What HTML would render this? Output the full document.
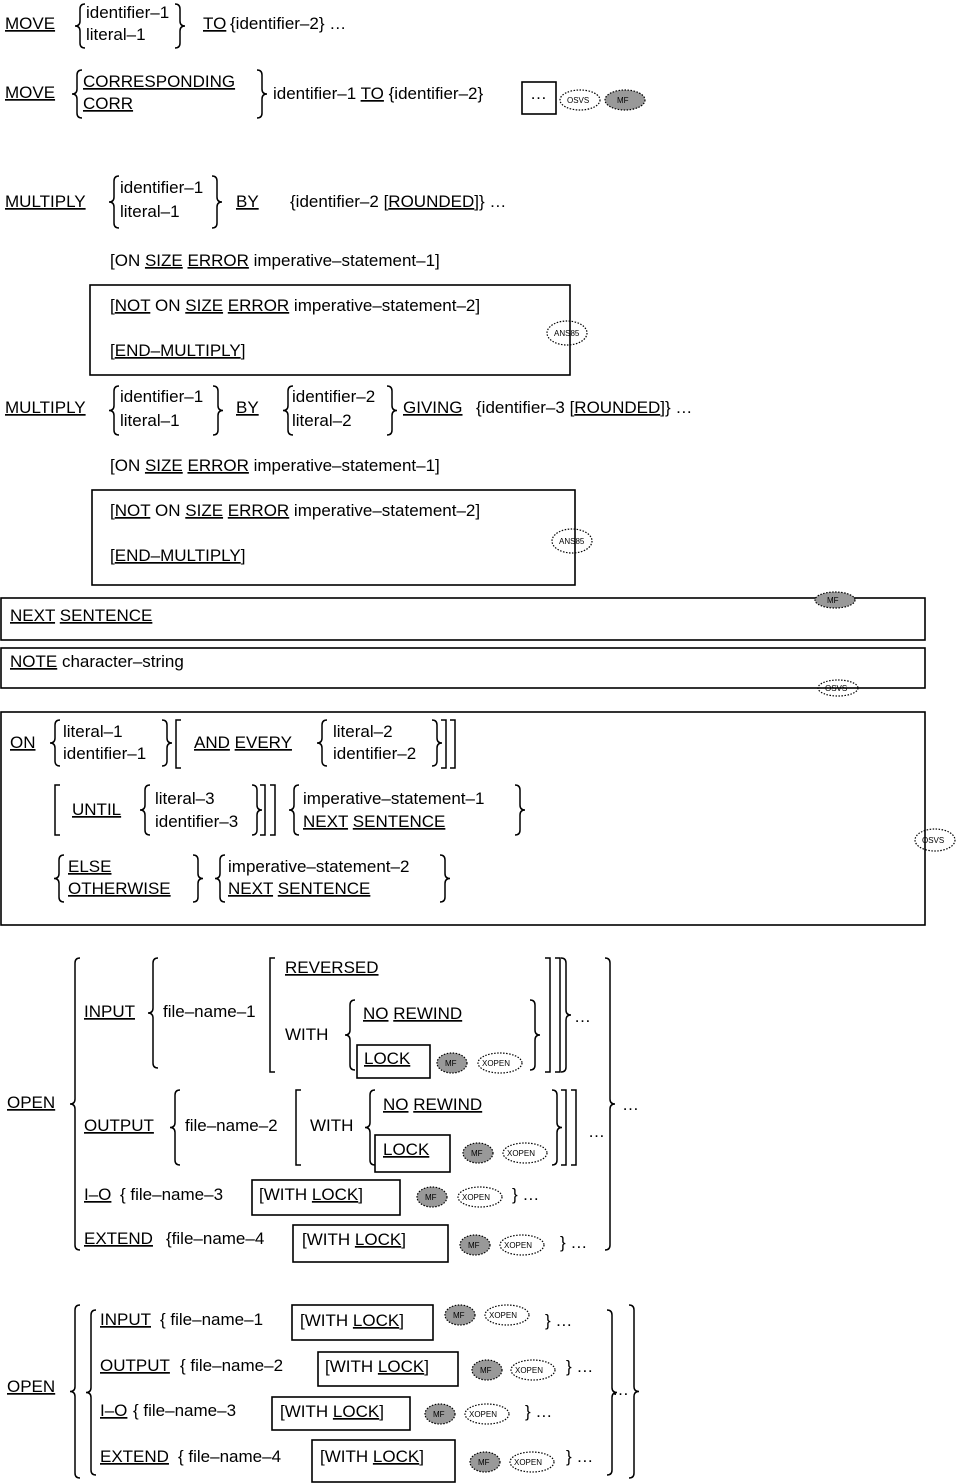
<!DOCTYPE html>
<html><head><meta charset="utf-8">
<style>
html,body{margin:0;padding:0;background:#fff;}
svg{display:block}
text{font-family:"Liberation Sans",sans-serif;font-size:17px;fill:#000}
.u{text-decoration:underline}
.b{font-size:8px}
</style></head>
<body>
<svg id="s" width="956" height="1484" viewBox="0 0 956 1484" xmlns="http://www.w3.org/2000/svg">
<g fill="none" stroke="#000" stroke-width="1.6">
<rect x="522" y="82" width="34" height="32"/>
<rect x="90" y="285" width="480" height="90"/>
<rect x="92" y="490" width="483" height="95"/>
<rect x="1" y="598" width="924" height="42"/>
<rect x="1" y="648" width="924" height="40"/>
<rect x="1" y="712" width="924" height="213"/>
<rect x="357" y="1045" width="73" height="33"/>
<rect x="375" y="1135" width="75" height="37"/>
<rect x="252" y="1180" width="148" height="35"/>
<rect x="293" y="1225" width="155" height="37"/>
<rect x="292" y="1305" width="141" height="35"/>
<rect x="318" y="1352" width="140" height="34"/>
<rect x="272" y="1397" width="138" height="33"/>
<rect x="312" y="1440" width="143" height="42"/>
</g>
<g id="br" fill="none" stroke="#000" stroke-width="1.5"></g>
<g fill="none" stroke="#000" stroke-width="1.2" stroke-dasharray="1.5,1.5">
<ellipse cx="580" cy="100" rx="20" ry="10"/>
<ellipse cx="567" cy="333" rx="20" ry="12"/>
<ellipse cx="572" cy="541" rx="20" ry="12"/>
<ellipse cx="838" cy="688" rx="20" ry="8"/>
<ellipse cx="935" cy="840" rx="20" ry="11"/>
<ellipse cx="500" cy="1063" rx="22" ry="10"/>
<ellipse cx="525" cy="1153" rx="22" ry="10"/>
<ellipse cx="480" cy="1197" rx="22" ry="10"/>
<ellipse cx="522" cy="1245" rx="22" ry="10"/>
<ellipse cx="507" cy="1315" rx="22" ry="10"/>
<ellipse cx="533" cy="1370" rx="22" ry="10"/>
<ellipse cx="487" cy="1414" rx="22" ry="10"/>
<ellipse cx="532" cy="1462" rx="22" ry="10"/>
</g>
<g fill="#999" stroke="#000" stroke-width="1.2" stroke-dasharray="1.5,1.5">
<ellipse cx="625" cy="100" rx="20" ry="10"/>
<ellipse cx="835" cy="600" rx="20" ry="8"/>
<ellipse cx="452" cy="1063" rx="15" ry="10"/>
<ellipse cx="478" cy="1153" rx="15" ry="10"/>
<ellipse cx="432" cy="1197" rx="15" ry="10"/>
<ellipse cx="475" cy="1245" rx="15" ry="10"/>
<ellipse cx="460" cy="1315" rx="15" ry="10"/>
<ellipse cx="487" cy="1370" rx="15" ry="10"/>
<ellipse cx="440" cy="1414" rx="15" ry="10"/>
<ellipse cx="485" cy="1462" rx="15" ry="10"/>
</g>
<g class="badges">
<text class="b" x="567" y="103">OSVS</text><text class="b" x="617" y="103">MF</text>
<text class="b" x="554" y="336">ANS85</text><text class="b" x="559" y="544">ANS85</text>
<text class="b" x="827" y="603">MF</text><text class="b" x="825" y="691">OSVS</text>
<text class="b" x="922" y="843">OSVS</text>
<text class="b" x="445" y="1066">MF</text><text class="b" x="482" y="1066">XOPEN</text>
<text class="b" x="471" y="1156">MF</text><text class="b" x="507" y="1156">XOPEN</text>
<text class="b" x="425" y="1200">MF</text><text class="b" x="462" y="1200">XOPEN</text>
<text class="b" x="468" y="1248">MF</text><text class="b" x="504" y="1248">XOPEN</text>
<text class="b" x="453" y="1318">MF</text><text class="b" x="489" y="1318">XOPEN</text>
<text class="b" x="480" y="1373">MF</text><text class="b" x="515" y="1373">XOPEN</text>
<text class="b" x="433" y="1417">MF</text><text class="b" x="469" y="1417">XOPEN</text>
<text class="b" x="478" y="1465">MF</text><text class="b" x="514" y="1465">XOPEN</text>
</g>

<text class="u" x="5" y="29">MOVE</text>
<text x="86" y="18">identifier–1</text><text x="86" y="40">literal–1</text>
<text class="u" x="203" y="29">TO</text><text x="230" y="29">{identifier–2} …</text>

<text class="u" x="5" y="98">MOVE</text>
<text class="u" x="83" y="87">CORRESPONDING</text><text class="u" x="83" y="109">CORR</text>
<text x="273" y="99">identifier–1 <tspan class="u">TO</tspan> {identifier–2}</text>
<text x="530" y="99">…</text>

<text class="u" x="5" y="207">MULTIPLY</text>
<text x="120" y="193">identifier–1</text><text x="120" y="217">literal–1</text>
<text class="u" x="236" y="207">BY</text>
<text x="290" y="207">{identifier–2   [<tspan class="u">ROUNDED</tspan>]} …</text>
<text x="110" y="266">[ON <tspan class="u">SIZE</tspan> <tspan class="u">ERROR</tspan> imperative–statement–1]</text>
<text x="110" y="311">[<tspan class="u">NOT</tspan> ON <tspan class="u">SIZE</tspan> <tspan class="u">ERROR</tspan> imperative–statement–2]</text>
<text x="110" y="356">[<tspan class="u">END–MULTIPLY</tspan>]</text>

<text class="u" x="5" y="413">MULTIPLY</text>
<text x="120" y="402">identifier–1</text><text x="120" y="426">literal–1</text>
<text class="u" x="236" y="413">BY</text>
<text x="292" y="402">identifier–2</text><text x="292" y="426">literal–2</text>
<text class="u" x="403" y="413">GIVING</text>
<text x="476" y="413">{identifier–3  [<tspan class="u">ROUNDED</tspan>]} …</text>
<text x="110" y="471">[ON <tspan class="u">SIZE</tspan> <tspan class="u">ERROR</tspan> imperative–statement–1]</text>
<text x="110" y="516">[<tspan class="u">NOT</tspan> ON <tspan class="u">SIZE</tspan> <tspan class="u">ERROR</tspan> imperative–statement–2]</text>
<text x="110" y="561">[<tspan class="u">END–MULTIPLY</tspan>]</text>

<text x="10" y="621"><tspan class="u">NEXT</tspan> <tspan class="u">SENTENCE</tspan></text>
<text x="10" y="667"><tspan class="u">NOTE</tspan> character–string</text>

<text class="u" x="10" y="748">ON</text>
<text x="63" y="737">literal–1</text><text x="63" y="759">identifier–1</text>
<text x="194" y="748"><tspan class="u">AND</tspan> <tspan class="u">EVERY</tspan></text>
<text x="333" y="737">literal–2</text><text x="333" y="759">identifier–2</text>
<text class="u" x="72" y="815">UNTIL</text>
<text x="155" y="804">literal–3</text><text x="155" y="827">identifier–3</text>
<text x="303" y="804">imperative–statement–1</text>
<text x="303" y="827"><tspan class="u">NEXT</tspan> <tspan class="u">SENTENCE</tspan></text>
<text class="u" x="68" y="872">ELSE</text><text class="u" x="68" y="894">OTHERWISE</text>
<text x="228" y="872">imperative–statement–2</text>
<text x="228" y="894"><tspan class="u">NEXT</tspan> <tspan class="u">SENTENCE</tspan></text>

<text class="u" x="7" y="1108">OPEN</text>
<text class="u" x="84" y="1017">INPUT</text><text x="163" y="1017">file–name–1</text>
<text class="u" x="285" y="973">REVERSED</text>
<text x="285" y="1040">WITH</text>
<text x="363" y="1019"><tspan class="u">NO</tspan> <tspan class="u">REWIND</tspan></text>
<text class="u" x="364" y="1064">LOCK</text>
<text x="574" y="1022">…</text>
<text class="u" x="84" y="1131">OUTPUT</text><text x="185" y="1131">file–name–2</text>
<text x="310" y="1131">WITH</text>
<text x="383" y="1110"><tspan class="u">NO</tspan> <tspan class="u">REWIND</tspan></text>
<text class="u" x="383" y="1155">LOCK</text>
<text x="588" y="1137">…</text>
<text class="u" x="84" y="1200">I–O</text><text x="120" y="1200">{ file–name–3</text>
<text x="259" y="1200">[WITH <tspan class="u">LOCK</tspan>]</text>
<text x="512" y="1200">} …</text>
<text class="u" x="84" y="1244">EXTEND</text><text x="166" y="1244">{file–name–4</text>
<text x="302" y="1245">[WITH <tspan class="u">LOCK</tspan>]</text>
<text x="560" y="1248">} …</text>
<text x="622" y="1110">…</text>

<text class="u" x="7" y="1392">OPEN</text>
<text class="u" x="100" y="1325">INPUT</text><text x="160" y="1325">{ file–name–1</text>
<text x="300" y="1326">[WITH <tspan class="u">LOCK</tspan>]</text><text x="545" y="1326">} …</text>
<text class="u" x="100" y="1371">OUTPUT</text><text x="180" y="1371">{ file–name–2</text>
<text x="325" y="1372">[WITH <tspan class="u">LOCK</tspan>]</text><text x="566" y="1372">} …</text>
<text class="u" x="100" y="1416">I–O</text><text x="133" y="1416">{ file–name–3</text>
<text x="280" y="1417">[WITH <tspan class="u">LOCK</tspan>]</text><text x="525" y="1417">} …</text>
<text class="u" x="100" y="1462">EXTEND</text><text x="178" y="1462">{ file–name–4</text>
<text x="320" y="1462">[WITH <tspan class="u">LOCK</tspan>]</text><text x="566" y="1462">} …</text>
<text x="612" y="1395">…</text>
</svg>
<script>
var g=document.getElementById('br'),d='';
function L(x,a,b){var m=(a+b)/2;d+='M'+(x+5)+','+a+'Q'+x+','+a+' '+x+','+(a+5)+'V'+(m-5)+'Q'+x+','+m+' '+(x-5)+','+m+'Q'+x+','+m+' '+x+','+(m+5)+'V'+(b-5)+'Q'+x+','+b+' '+(x+5)+','+b;}
function R(x,a,b){var m=(a+b)/2;d+='M'+(x-5)+','+a+'Q'+x+','+a+' '+x+','+(a+5)+'V'+(m-5)+'Q'+x+','+m+' '+(x+5)+','+m+'Q'+x+','+m+' '+x+','+(m+5)+'V'+(b-5)+'Q'+x+','+b+' '+(x-5)+','+b;}
function BL(x,a,b){d+='M'+(x+5)+','+a+'H'+x+'V'+b+'H'+(x+5);}
function BR(x,a,b){d+='M'+(x-5)+','+a+'H'+x+'V'+b+'H'+(x-5);}
L(80,4,48);R(180,4,48);
L(77,70,118);R(262,70,118);
L(114,176,228);R(217,176,228);
L(114,386,435);R(218,386,435);L(288,386,435);R(392,386,435);
L(55,720,766);R(167,720,766);BL(176,720,768);L(322,720,766);R(437,720,766);BR(446,720,768);BR(455,720,768);
BL(55,785,835);L(145,785,835);R(257,785,835);BR(265,785,835);BR(275,785,835);L(294,785,835);R(520,785,835);
L(59,855,902);R(198,855,902);L(220,855,902);R(445,855,902);
L(75,958,1250);L(153,958,1068);BL(270,958,1072);L(350,1000,1070);R(535,1000,1070);BR(550,958,1072);BR(560,958,1072);R(566,958,1072);
L(175,1090,1165);BL(296,1090,1165);L(370,1090,1165);R(557,1090,1165);BR(566,1090,1165);BR(576,1090,1165);
R(610,958,1250);
L(75,1305,1478);L(91,1310,1475);R(612,1310,1475);R(634,1305,1478);
var p=document.createElementNS('http://www.w3.org/2000/svg','path');p.setAttribute('d',d);g.appendChild(p);
</script>
</body></html>
